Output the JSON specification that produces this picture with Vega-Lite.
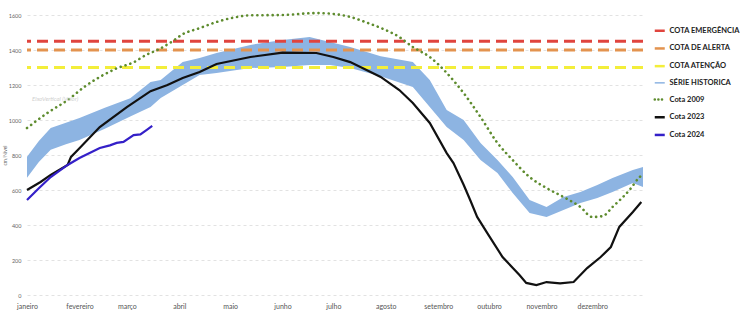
{
  "$schema": "https://vega.github.io/schema/vega-lite/v6.json",
  "autosize": {"type": "none"},
  "width": 616,
  "height": 280,
  "padding": {"left": 27, "top": 15, "right": 99, "bottom": 18},
  "background": "white",
  "config": {
    "view": {"stroke": null},
    "font": "Lato",
    "axisX": {
      "grid": false,
      "domain": false,
      "ticks": false,
      "labelFontSize": 7,
      "labelColor": "#555555",
      "labelPadding": 7,
      "labelFlush": false,
      "labelOverlap": false
    },
    "axisY": {
      "grid": true,
      "gridColor": "#e2e2e2",
      "gridDash": [3, 3],
      "gridWidth": 1,
      "domain": false,
      "ticks": false,
      "labelOverlap": false,
      "labelFontSize": 5.5,
      "labelColor": "#666666",
      "labelPadding": 6,
      "titleFontSize": 5,
      "titleFontWeight": "normal",
      "titleColor": "#666666",
      "titlePadding": 1
    },
    "legend": {
      "title": null,
      "orient": "none",
      "legendX": 629,
      "legendY": 12,
      "padding": 0,
      "symbolType": "stroke",
      "symbolSize": 100,
      "symbolStrokeWidth": 2.5,
      "labelFontSize": 7.5,
      "labelFontWeight": "bold",
      "labelColor": "#222222",
      "labelLimit": 120,
      "rowPadding": 6.7,
      "labelOffset": 6
    }
  },
  "datasets": {
    "hist": [
      {"dia": 1, "min": 670, "max": 790},
      {"dia": 8, "min": 760, "max": 880},
      {"dia": 15, "min": 830, "max": 955},
      {"dia": 24, "min": 862, "max": 985},
      {"dia": 32, "min": 886, "max": 1011},
      {"dia": 47, "min": 950, "max": 1070},
      {"dia": 62, "min": 1020, "max": 1125},
      {"dia": 74, "min": 1074, "max": 1217},
      {"dia": 80, "min": 1126, "max": 1229},
      {"dia": 93, "min": 1200, "max": 1331},
      {"dia": 103, "min": 1257, "max": 1354},
      {"dia": 113, "min": 1269, "max": 1383},
      {"dia": 133, "min": 1297, "max": 1429},
      {"dia": 152, "min": 1303, "max": 1457},
      {"dia": 168, "min": 1314, "max": 1474},
      {"dia": 180, "min": 1314, "max": 1446},
      {"dia": 192, "min": 1297, "max": 1417},
      {"dia": 210, "min": 1250, "max": 1365},
      {"dia": 229, "min": 1189, "max": 1331},
      {"dia": 239, "min": 1074, "max": 1229},
      {"dia": 249, "min": 960, "max": 1057},
      {"dia": 259, "min": 886, "max": 1000},
      {"dia": 269, "min": 771, "max": 869},
      {"dia": 279, "min": 697, "max": 771},
      {"dia": 288, "min": 583, "max": 674},
      {"dia": 298, "min": 469, "max": 543},
      {"dia": 308, "min": 446, "max": 503},
      {"dia": 318, "min": 486, "max": 560},
      {"dia": 328, "min": 526, "max": 589},
      {"dia": 338, "min": 554, "max": 629},
      {"dia": 347, "min": 589, "max": 669},
      {"dia": 359, "min": 640, "max": 714},
      {"dia": 365, "min": 617, "max": 731}
    ],
    "limites": [
      {"serie": "COTA EMERGÊNCIA", "cota": 1450},
      {"serie": "COTA DE ALERTA", "cota": 1400},
      {"serie": "COTA ATENÇÃO", "cota": 1300}
    ],
    "linhas": [
      {"serie": "Cota 2009", "dia": 1, "cota": 954},
      {"serie": "Cota 2009", "dia": 13, "cota": 1040},
      {"serie": "Cota 2009", "dia": 25, "cota": 1114},
      {"serie": "Cota 2009", "dia": 35, "cota": 1190},
      {"serie": "Cota 2009", "dia": 44, "cota": 1246},
      {"serie": "Cota 2009", "dia": 54, "cota": 1295},
      {"serie": "Cota 2009", "dia": 64, "cota": 1330},
      {"serie": "Cota 2009", "dia": 72, "cota": 1375},
      {"serie": "Cota 2009", "dia": 78, "cota": 1400},
      {"serie": "Cota 2009", "dia": 87, "cota": 1450},
      {"serie": "Cota 2009", "dia": 93, "cota": 1490},
      {"serie": "Cota 2009", "dia": 103, "cota": 1525},
      {"serie": "Cota 2009", "dia": 113, "cota": 1560},
      {"serie": "Cota 2009", "dia": 123, "cota": 1585},
      {"serie": "Cota 2009", "dia": 133, "cota": 1598},
      {"serie": "Cota 2009", "dia": 152, "cota": 1600},
      {"serie": "Cota 2009", "dia": 172, "cota": 1611},
      {"serie": "Cota 2009", "dia": 182, "cota": 1606},
      {"serie": "Cota 2009", "dia": 192, "cota": 1589},
      {"serie": "Cota 2009", "dia": 202, "cota": 1556},
      {"serie": "Cota 2009", "dia": 211, "cota": 1522},
      {"serie": "Cota 2009", "dia": 221, "cota": 1474},
      {"serie": "Cota 2009", "dia": 229, "cota": 1417},
      {"serie": "Cota 2009", "dia": 239, "cota": 1360},
      {"serie": "Cota 2009", "dia": 249, "cota": 1269},
      {"serie": "Cota 2009", "dia": 259, "cota": 1154},
      {"serie": "Cota 2009", "dia": 269, "cota": 1017},
      {"serie": "Cota 2009", "dia": 279, "cota": 869},
      {"serie": "Cota 2009", "dia": 288, "cota": 771},
      {"serie": "Cota 2009", "dia": 298, "cota": 674},
      {"serie": "Cota 2009", "dia": 308, "cota": 611},
      {"serie": "Cota 2009", "dia": 318, "cota": 560},
      {"serie": "Cota 2009", "dia": 328, "cota": 503},
      {"serie": "Cota 2009", "dia": 335, "cota": 446},
      {"serie": "Cota 2009", "dia": 341, "cota": 450},
      {"serie": "Cota 2009", "dia": 347, "cota": 503},
      {"serie": "Cota 2009", "dia": 357, "cota": 600},
      {"serie": "Cota 2009", "dia": 363, "cota": 674},
      {"serie": "Cota 2009", "dia": 365, "cota": 690},
      {"serie": "Cota 2023", "dia": 1, "cota": 600},
      {"serie": "Cota 2023", "dia": 9, "cota": 646},
      {"serie": "Cota 2023", "dia": 15, "cota": 686},
      {"serie": "Cota 2023", "dia": 25, "cota": 743},
      {"serie": "Cota 2023", "dia": 27, "cota": 789},
      {"serie": "Cota 2023", "dia": 31, "cota": 829},
      {"serie": "Cota 2023", "dia": 44, "cota": 960},
      {"serie": "Cota 2023", "dia": 60, "cota": 1074},
      {"serie": "Cota 2023", "dia": 74, "cota": 1165},
      {"serie": "Cota 2023", "dia": 84, "cota": 1200},
      {"serie": "Cota 2023", "dia": 93, "cota": 1240},
      {"serie": "Cota 2023", "dia": 103, "cota": 1274},
      {"serie": "Cota 2023", "dia": 113, "cota": 1320},
      {"serie": "Cota 2023", "dia": 133, "cota": 1360},
      {"serie": "Cota 2023", "dia": 152, "cota": 1385},
      {"serie": "Cota 2023", "dia": 172, "cota": 1383},
      {"serie": "Cota 2023", "dia": 182, "cota": 1360},
      {"serie": "Cota 2023", "dia": 192, "cota": 1331},
      {"serie": "Cota 2023", "dia": 210, "cota": 1246},
      {"serie": "Cota 2023", "dia": 221, "cota": 1171},
      {"serie": "Cota 2023", "dia": 229, "cota": 1097},
      {"serie": "Cota 2023", "dia": 239, "cota": 983},
      {"serie": "Cota 2023", "dia": 249, "cota": 811},
      {"serie": "Cota 2023", "dia": 253, "cota": 754},
      {"serie": "Cota 2023", "dia": 259, "cota": 630},
      {"serie": "Cota 2023", "dia": 263, "cota": 540},
      {"serie": "Cota 2023", "dia": 267, "cota": 446},
      {"serie": "Cota 2023", "dia": 273, "cota": 354},
      {"serie": "Cota 2023", "dia": 282, "cota": 217},
      {"serie": "Cota 2023", "dia": 292, "cota": 114},
      {"serie": "Cota 2023", "dia": 296, "cota": 69},
      {"serie": "Cota 2023", "dia": 302, "cota": 57},
      {"serie": "Cota 2023", "dia": 308, "cota": 74},
      {"serie": "Cota 2023", "dia": 316, "cota": 66},
      {"serie": "Cota 2023", "dia": 324, "cota": 74},
      {"serie": "Cota 2023", "dia": 332, "cota": 154},
      {"serie": "Cota 2023", "dia": 340, "cota": 217},
      {"serie": "Cota 2023", "dia": 346, "cota": 274},
      {"serie": "Cota 2023", "dia": 351, "cota": 389},
      {"serie": "Cota 2023", "dia": 359, "cota": 474},
      {"serie": "Cota 2023", "dia": 364, "cota": 531},
      {"serie": "Cota 2024", "dia": 1, "cota": 543},
      {"serie": "Cota 2024", "dia": 8, "cota": 610},
      {"serie": "Cota 2024", "dia": 15, "cota": 674},
      {"serie": "Cota 2024", "dia": 25, "cota": 743},
      {"serie": "Cota 2024", "dia": 32, "cota": 783},
      {"serie": "Cota 2024", "dia": 38, "cota": 811},
      {"serie": "Cota 2024", "dia": 44, "cota": 840},
      {"serie": "Cota 2024", "dia": 50, "cota": 855},
      {"serie": "Cota 2024", "dia": 54, "cota": 869},
      {"serie": "Cota 2024", "dia": 58, "cota": 875},
      {"serie": "Cota 2024", "dia": 64, "cota": 914},
      {"serie": "Cota 2024", "dia": 68, "cota": 918},
      {"serie": "Cota 2024", "dia": 72, "cota": 945},
      {"serie": "Cota 2024", "dia": 75, "cota": 966}
    ],
    "nota": [{"dia": 4, "cota": 1118, "texto": "EixoVertical (Valor)"}]
  },
  "layer": [
    {
      "data": {"name": "hist"},
      "mark": {"type": "area", "opacity": 1},
      "encoding": {
        "x": {
          "field": "dia",
          "type": "quantitative",
          "scale": {"domain": [1, 365], "nice": false, "zero": false},
          "axis": {
            "title": null,
            "values": [1, 32, 60, 91, 121, 152, 182, 213, 244, 274, 305, 335],
            "labelExpr": "['janeiro','fevereiro','março','abril','maio','junho','julho','agosto','setembro','outubro','novembro','dezembro'][indexof([1,32,60,91,121,152,182,213,244,274,305,335], datum.value)]"
          }
        },
        "y": {
          "field": "max",
          "type": "quantitative",
          "scale": {"domain": [0, 1600], "nice": false},
          "axis": {
            "title": "cm/Nível",
            "values": [0, 200, 400, 600, 800, 1000, 1200, 1400, 1600],
            "format": "d"
          }
        },
        "y2": {"field": "min"},
        "color": {
          "datum": "SÉRIE HISTORICA",
          "type": "nominal",
          "scale": {
            "domain": ["COTA EMERGÊNCIA", "COTA DE ALERTA", "COTA ATENÇÃO", "SÉRIE HISTORICA", "Cota 2009", "Cota 2023", "Cota 2024"],
            "range": ["#E0443E", "#E3934F", "#F3EE3A", "#8DB4E2", "#5E8C2E", "#111111", "#3420C8"]
          },
          "legend": {
            "title": null,
            "encode": {
              "symbols": {
                "update": {
                  "stroke": {"signal": "scale('color', datum.value)"},
                  "fill": {"value": "transparent"},
                  "opacity": {"value": 1},
                  "strokeDash": {"signal": "datum.value === 'Cota 2009' ? [0.1, 3.5] : [20, 0]"},
                  "strokeCap": {"signal": "datum.value === 'Cota 2009' ? 'round' : 'butt'"},
                  "strokeWidth": {"signal": "datum.value === 'SÉRIE HISTORICA' ? 1.5 : 2.5"}
                }
              }
            }
          }
        }
      }
    },
    {
      "data": {"name": "limites"},
      "mark": {"type": "rule", "strokeWidth": 3, "strokeDash": [11, 6]},
      "encoding": {
        "y": {"field": "cota", "type": "quantitative", "axis": {"title": "cm/Nível", "values": [0, 200, 400, 600, 800, 1000, 1200, 1400, 1600], "format": "d"}},
        "color": {"field": "serie", "type": "nominal", "legend": {"title": null, "encode": {"symbols": {"update": {"stroke": {"signal": "scale('color', datum.value)"}, "fill": {"value": "transparent"}, "opacity": {"value": 1}, "strokeDash": {"signal": "datum.value === 'Cota 2009' ? [0.1, 3.5] : [20, 0]"}, "strokeCap": {"signal": "datum.value === 'Cota 2009' ? 'round' : 'butt'"}, "strokeWidth": {"signal": "datum.value === 'SÉRIE HISTORICA' ? 1.5 : 2.5"}}}}}}
      }
    },
    {
      "data": {"name": "linhas"},
      "transform": [{"filter": "datum.serie !== 'Cota 2009'"}],
      "mark": {"type": "line", "strokeWidth": 2.2},
      "encoding": {
        "x": {"field": "dia", "type": "quantitative", "axis": {"title": null, "values": [1, 32, 60, 91, 121, 152, 182, 213, 244, 274, 305, 335], "labelExpr": "['janeiro','fevereiro','março','abril','maio','junho','julho','agosto','setembro','outubro','novembro','dezembro'][indexof([1,32,60,91,121,152,182,213,244,274,305,335], datum.value)]"}},
        "y": {"field": "cota", "type": "quantitative", "axis": {"title": "cm/Nível", "values": [0, 200, 400, 600, 800, 1000, 1200, 1400, 1600], "format": "d"}},
        "color": {"field": "serie", "type": "nominal", "legend": {"title": null, "encode": {"symbols": {"update": {"stroke": {"signal": "scale('color', datum.value)"}, "fill": {"value": "transparent"}, "opacity": {"value": 1}, "strokeDash": {"signal": "datum.value === 'Cota 2009' ? [0.1, 3.5] : [20, 0]"}, "strokeCap": {"signal": "datum.value === 'Cota 2009' ? 'round' : 'butt'"}, "strokeWidth": {"signal": "datum.value === 'SÉRIE HISTORICA' ? 1.5 : 2.5"}}}}}}
      }
    },
    {
      "data": {"name": "linhas"},
      "transform": [{"filter": "datum.serie === 'Cota 2009'"}],
      "mark": {"type": "line", "strokeWidth": 2.6, "strokeDash": [0.1, 5], "strokeCap": "round", "interpolate": "monotone"},
      "encoding": {
        "x": {"field": "dia", "type": "quantitative", "axis": {"title": null, "values": [1, 32, 60, 91, 121, 152, 182, 213, 244, 274, 305, 335], "labelExpr": "['janeiro','fevereiro','março','abril','maio','junho','julho','agosto','setembro','outubro','novembro','dezembro'][indexof([1,32,60,91,121,152,182,213,244,274,305,335], datum.value)]"}},
        "y": {"field": "cota", "type": "quantitative", "axis": {"title": "cm/Nível", "values": [0, 200, 400, 600, 800, 1000, 1200, 1400, 1600], "format": "d"}},
        "color": {"field": "serie", "type": "nominal", "legend": {"title": null, "encode": {"symbols": {"update": {"stroke": {"signal": "scale('color', datum.value)"}, "fill": {"value": "transparent"}, "opacity": {"value": 1}, "strokeDash": {"signal": "datum.value === 'Cota 2009' ? [0.1, 3.5] : [20, 0]"}, "strokeCap": {"signal": "datum.value === 'Cota 2009' ? 'round' : 'butt'"}, "strokeWidth": {"signal": "datum.value === 'SÉRIE HISTORICA' ? 1.5 : 2.5"}}}}}}
      }
    },
    {
      "data": {"name": "nota"},
      "mark": {"type": "text", "align": "left", "baseline": "middle", "fontSize": 6, "fontStyle": "italic", "color": "#cfcfcf"},
      "encoding": {
        "x": {"field": "dia", "type": "quantitative", "axis": {"title": null, "values": [1, 32, 60, 91, 121, 152, 182, 213, 244, 274, 305, 335], "labelExpr": "['janeiro','fevereiro','março','abril','maio','junho','julho','agosto','setembro','outubro','novembro','dezembro'][indexof([1,32,60,91,121,152,182,213,244,274,305,335], datum.value)]"}},
        "y": {"field": "cota", "type": "quantitative", "axis": {"title": "cm/Nível", "values": [0, 200, 400, 600, 800, 1000, 1200, 1400, 1600], "format": "d"}},
        "text": {"field": "texto"}
      }
    }
  ]
}
